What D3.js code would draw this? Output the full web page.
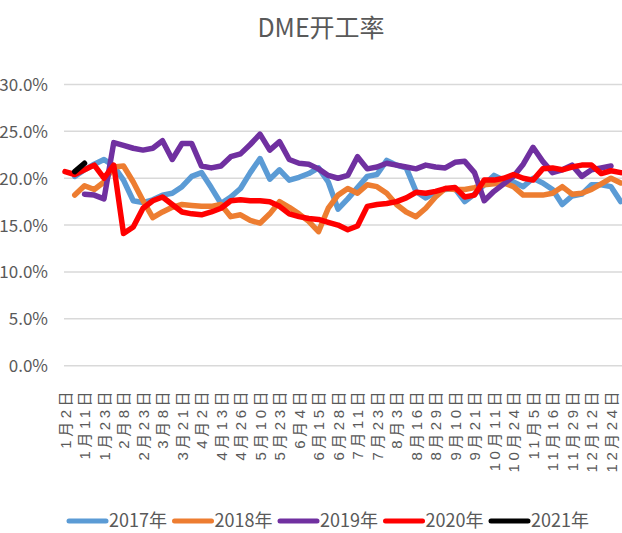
<!DOCTYPE html>
<html>
<head>
<meta charset="utf-8">
<script src="https://cdnjs.cloudflare.com/ajax/libs/d3/7.8.5/d3.min.js"></script>
<style>
  body { margin: 0; background: #fff; }
</style>
</head>
<body>
<script>

// categories (only every second one gets a label)
var categories = ["1月2日", "1月7日", "1月11日", "1月17日", "1月23日", "1月30日", "2月8日", "2月15日",
  "2月23日", "3月1日", "3月8日", "3月14日", "3月21日", "3月27日", "4月2日", "4月8日", "4月13日",
  "4月19日", "4月26日", "5月3日", "5月10日", "5月16日", "5月23日", "5月29日", "6月4日", "6月10日",
  "6月15日", "6月21日", "6月28日", "7月5日", "7月11日", "7月17日", "7月23日", "7月28日", "8月3日",
  "8月10日", "8月16日", "8月23日", "8月29日", "9月4日", "9月10日", "9月15日", "9月21日", "9月30日",
  "10月11日", "10月18日", "10月24日", "10月30日", "11月5日", "11月10日", "11月16日", "11月22日",
  "11月29日", "12月5日", "12月12日", "12月18日", "12月24日", "12月30日"];

// values in percent, null = no data
var s2017 = [null, 20.2, 20.9, 21.5, 22.0, 21.3, 19.8, 17.6, 17.4, 17.7,
  18.2, 18.4, 19.1, 20.2, 20.6, 19.0, 17.3, 18.0, 18.9, 20.6,
  22.1, 19.9, 20.9, 19.8, 20.1, 20.5, 21.1, 19.6, 16.7, 17.8,
  19.0, 20.2, 20.4, 21.9, 21.4, 21.1, 18.6, 17.9, 18.5, 18.8,
  18.9, 17.5, 18.3, 19.3, 20.3, 19.8, 19.6, 19.1, 20.0, 19.5,
  18.8, 17.2, 18.1, 18.3, 19.3, 19.3, 19.1, 17.5];

var s2018 = [null, 18.2, 19.2, 18.8, 19.6, 21.2, 21.3, 19.6, 17.6, 15.8,
  16.4, 16.9, 17.2, 17.1, 17.0, 17.0, 17.2, 15.9, 16.1, 15.5,
  15.2, 16.2, 17.5, 16.9, 16.2, 15.4, 14.3, 16.8, 18.2, 18.9,
  18.4, 19.3, 19.1, 18.4, 17.2, 16.4, 15.9, 16.8, 18.0, 18.9,
  18.8, 18.8, 19.0, 19.3, 19.4, 19.5, 19.1, 18.2, 18.2, 18.2,
  18.4, 19.1, 18.3, 18.4, 18.8, 19.4, 20.0, 19.5];

var s2019 = [null, null, 18.3, 18.2, 17.8, 23.8, 23.5, 23.2, 23.0, 23.2,
  24.0, 22.0, 23.7, 23.7, 21.3, 21.1, 21.3, 22.3, 22.6, 23.6,
  24.7, 23.0, 23.9, 22.0, 21.6, 21.5, 21.0, 20.3, 20.0, 20.3,
  22.3, 21.0, 21.2, 21.6, 21.4, 21.2, 21.0, 21.4, 21.2, 21.1,
  21.7, 21.8, 20.6, 17.6, 18.6, 19.4, 20.2, 21.5, 23.3, 21.8,
  20.6, 20.9, 21.4, 20.2, 20.9, 21.1, 21.3, null];

var s2020 = [20.7, 20.4, 20.9, 21.4, 20.0, 21.4, 14.1, 14.8, 16.8, 17.6,
  18.0, 17.2, 16.4, 16.2, 16.1, 16.4, 16.8, 17.6, 17.7, 17.6,
  17.6, 17.5, 17.0, 16.2, 15.9, 15.7, 15.6, 15.3, 15.0, 14.5,
  14.9, 17.0, 17.2, 17.3, 17.5, 17.9, 18.5, 18.4, 18.6, 18.9,
  19.0, 18.0, 18.2, 19.8, 19.8, 20.0, 20.4, 20.0, 19.8, 21.0,
  21.1, 20.9, 21.2, 21.4, 21.4, 20.5, 20.8, 20.6];

var s2021 = [null, 20.7, 21.6];

var seriesNames = ["2017年", "2018年", "2019年", "2020年", "2021年"];
var seriesColors = ["#5B9BD5", "#ED7D31", "#7030A0", "#FF0000", "#000000"];
var yTicks = [0, 0.05, 0.10, 0.15, 0.20, 0.25, 0.30];

var w = 622;
var h = 533;
var fontLatin = "'Liberation Sans Narrow', 'Noto Sans CJK SC', sans-serif";
var fontCjk = "'Liberation Sans', 'Noto Sans CJK SC', sans-serif";
var textColor = "#595959";

var svg = d3.select("body")
  .append("svg")
  .attr("width", w)
  .attr("height", h);

var x = d3.scalePoint()
  .domain(categories)
  .range([65, 620.75]);

var y = d3.scaleLinear()
  .domain([0, 0.30])
  .range([365.7, 84.5]);

// title
svg.append("text")
  .attr("x", 321)
  .attr("y", 37)
  .attr("text-anchor", "middle")
  .attr("font-family", fontLatin)
  .attr("font-size", "25px")
  .attr("fill", textColor)
  .text("DME开工率");

// gridlines
svg.append("g")
  .selectAll("line")
  .data(yTicks)
  .enter()
  .append("line")
  .attr("x1", 64)
  .attr("x2", w)
  .attr("y1", function(d) { return y(d); })
  .attr("y2", function(d) { return y(d); })
  .attr("stroke", "#d9d9d9")
  .attr("stroke-width", 1.5);

// y axis
var yAxis = d3.axisLeft(y)
  .tickValues(yTicks)
  .tickFormat(d3.format(".1%"))
  .tickSize(0)
  .tickPadding(0);

var gy = svg.append("g")
  .attr("transform", "translate(48,0)")
  .call(yAxis);
gy.select(".domain").remove();
gy.selectAll("text")
  .attr("font-family", fontLatin)
  .attr("font-size", "17px")
  .attr("fill", textColor)
  .attr("dy", "0.35em");

// x axis, labels rotated
var xAxis = d3.axisBottom(x)
  .tickValues(categories.filter(function(d, i) { return i % 2 === 0; }))
  .tickSize(0);

var gx = svg.append("g")
  .attr("transform", "translate(0,388)")
  .call(xAxis);
gx.select(".domain").remove();
gx.selectAll("text")
  .attr("font-family", fontCjk)
  .attr("font-size", "15px")
  .attr("letter-spacing", "3.5px")
  .attr("fill", textColor)
  .attr("x", 0)
  .attr("y", 0)
  .attr("dy", "0.35em")
  .attr("text-anchor", "end")
  .attr("transform", "rotate(-90)");

// lines
var allSeries = [s2017, s2018, s2019, s2020, s2021];

var line = d3.line()
  .defined(function(d) { return d != null; })
  .x(function(d, i) { return x(categories[i]); })
  .y(function(d) { return y(d / 100); });

svg.append("g")
  .selectAll("path")
  .data(allSeries)
  .enter()
  .append("path")
  .attr("d", line)
  .attr("fill", "none")
  .attr("stroke", function(d, i) { return seriesColors[i]; })
  .attr("stroke-width", 5.5)
  .attr("stroke-linejoin", "round")
  .attr("stroke-linecap", "round");

// legend
var legend = svg.append("g")
  .selectAll("g")
  .data(seriesNames)
  .enter()
  .append("g")
  .attr("transform", function(d, i) { return "translate(" + (69 + i * 105.5) + ",521)"; });

legend.append("line")
  .attr("x1", 0)
  .attr("x2", 37)
  .attr("y1", 0)
  .attr("y2", 0)
  .attr("stroke", function(d, i) { return seriesColors[i]; })
  .attr("stroke-width", 5)
  .attr("stroke-linecap", "round");

legend.append("text")
  .attr("x", 40)
  .attr("y", 0)
  .attr("dy", "0.35em")
  .attr("font-family", fontLatin)
  .attr("font-size", "18px")
  .attr("fill", textColor)
  .text(function(d) { return d; });

</script>
</body>
</html>
